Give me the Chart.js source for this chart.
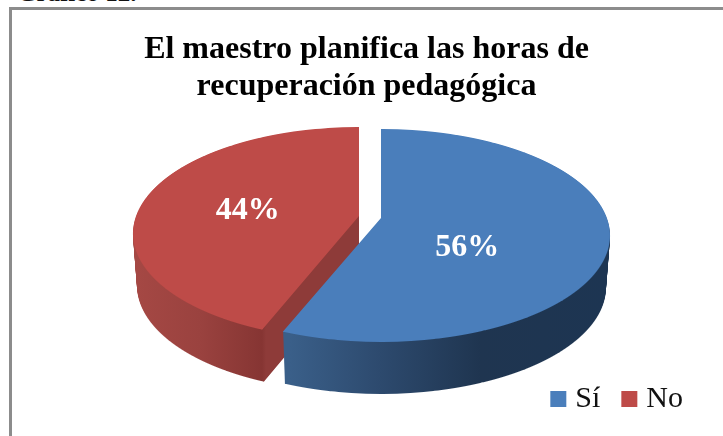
<!DOCTYPE html>
<html>
<head>
<meta charset="utf-8">
<title>Gráfico 12</title>
<script src="https://cdn.jsdelivr.net/npm/chart.js@4"></script>
<style>
  html, body { margin: 0; padding: 0; background: #fff; overflow: hidden; }
  #wrap { position: relative; width: 723px; height: 436px; overflow: hidden; }
  #frame { position: absolute; left: 9px; top: 7px; right: 0; bottom: 0; border-left: 3px solid #8c8c8c; border-top: 3px solid #8c8c8c; }
  #caption { position: absolute; left: 17px; top: -21px; font: bold 25px "Liberation Serif", serif; color: #111; white-space: nowrap; }
  canvas { position: absolute; left: 0; top: 0; }
</style>
</head>
<body>
<div id="wrap">
  <div id="caption">Gráfico 12.</div>
  <div id="frame"></div>
  <canvas id="chart" width="723" height="436"></canvas>
</div>
<script>
const categories = ['Sí', 'No'];
const values = [56, 44];
const percentLabels = ['56%', '44%'];
const titleLines = ['El maestro planifica las horas de', 'recuperación pedagógica'];
const topColors = ['#4a7ebb', '#be4b48'];

// how the flat pie is laid down as a tilted disc, one entry per slice
const tilt = 0.164;
const discX = [381, 359];
const discY = [218, 216];
const discRx = [229, 226];
const discRy = 103.6;
const depth = 52;
const shrink = 0.018; // bottom disc is a bit narrower than the top one
const labelNudge = [[-28, 20], [-2, 4]];

const wallStops = [
  [[290, '#3a5f89'], [380, '#2d4a6e'], [480, '#1f3550'], [606, '#1d3552']],
  [[135, '#a54844'], [200, '#9a423f'], [262, '#863533'], [266, '#8e3b39'], [360, '#8e3b39']]
];

// one pixel row of the tilted disc, drawn by the arc element itself
function drawRow(ctx, arc, i, row, drop) {
  const R = arc.outerRadius;
  const Y = row + 0.5 - discY[i] - drop;
  const t = Y / (discRy + tilt * Y);
  if (t < -1 || t > 1) return;
  const w = 1 - tilt * t;
  const n = discRx[i] * Math.sqrt(1 - tilt * tilt) * (1 - shrink * drop / depth);
  const sx = n / (w * R);
  const sy = discRy / (w * w * R);
  ctx.save();
  ctx.beginPath();
  ctx.rect(0, row, ctx.canvas.width, 1);
  ctx.clip();
  ctx.setTransform(sx, 0, 0, sy, discX[i] - sx * arc.x, row + 0.5 - sy * (arc.y + t * R));
  arc.draw(ctx);
  ctx.restore();
}

function drawWall(ctx, arc, i) {
  const layer = document.createElement('canvas');
  layer.width = ctx.canvas.width;
  layer.height = ctx.canvas.height;
  const lctx = layer.getContext('2d');
  for (let d = 1; d <= depth; d++) {
    for (let row = discY[i] - 6 + d; row <= discY[i] + 126 + d; row++) {
      drawRow(lctx, arc, i, row, d);
    }
  }
  const stops = wallStops[i];
  const x0 = stops[0][0];
  const x1 = stops[stops.length - 1][0];
  const grad = lctx.createLinearGradient(x0, 0, x1, 0);
  stops.forEach(s => grad.addColorStop((s[0] - x0) / (x1 - x0), s[1]));
  lctx.globalCompositeOperation = 'source-atop';
  lctx.fillStyle = grad;
  lctx.fillRect(0, 0, layer.width, layer.height);
  ctx.drawImage(layer, 0, 0);
}

const tiltedPie = {
  id: 'tiltedPie',
  beforeDatasetsDraw(chart) {
    const ctx = chart.ctx;
    const arcs = chart.getDatasetMeta(0).data;
    // back slice first, the blue one sits in front of it
    [1, 0].forEach(i => {
      drawWall(ctx, arcs[i], i);
      for (let row = discY[i] - 95; row <= discY[i] + 130; row++) {
        drawRow(ctx, arcs[i], i, row, 0);
      }
    });
    ctx.save();
    ctx.font = 'bold 32px "Liberation Serif", serif';
    ctx.fillStyle = '#fff';
    ctx.textAlign = 'center';
    ctx.textBaseline = 'middle';
    arcs.forEach((arc, i) => {
      const p = arc.getCenterPoint();
      const u = (p.x - arc.x) / arc.outerRadius;
      const v = (p.y - arc.y) / arc.outerRadius;
      const w = 1 - tilt * v;
      ctx.fillText(percentLabels[i],
        discX[i] + discRx[i] * u / w + labelNudge[i][0],
        discY[i] + discRy * v / w + labelNudge[i][1]);
    });
    ctx.restore();
    return false;
  }
};

new Chart(document.getElementById('chart'), {
  type: 'pie',
  data: {
    labels: categories,
    datasets: [{ data: values, backgroundColor: topColors, borderWidth: 0 }]
  },
  options: {
    responsive: false,
    animation: false,
    layout: { padding: { left: 23, right: 13, top: 0, bottom: 12 } },
    plugins: {
      tooltip: { enabled: false },
      title: {
        display: true,
        text: titleLines,
        color: '#000',
        font: { family: '"Liberation Serif", serif', size: 32, weight: 'bold', lineHeight: 1.156 },
        padding: { top: 31, bottom: 10 }
      },
      legend: {
        position: 'bottom',
        align: 'end',
        labels: {
          usePointStyle: true,
          pointStyle: 'rect',
          boxWidth: 4,
          boxHeight: 16,
          padding: 27,
          color: '#111',
          font: { family: '"Liberation Serif", serif', size: 30 }
        }
      }
    }
  },
  plugins: [tiltedPie]
});
</script>
</body>
</html>
